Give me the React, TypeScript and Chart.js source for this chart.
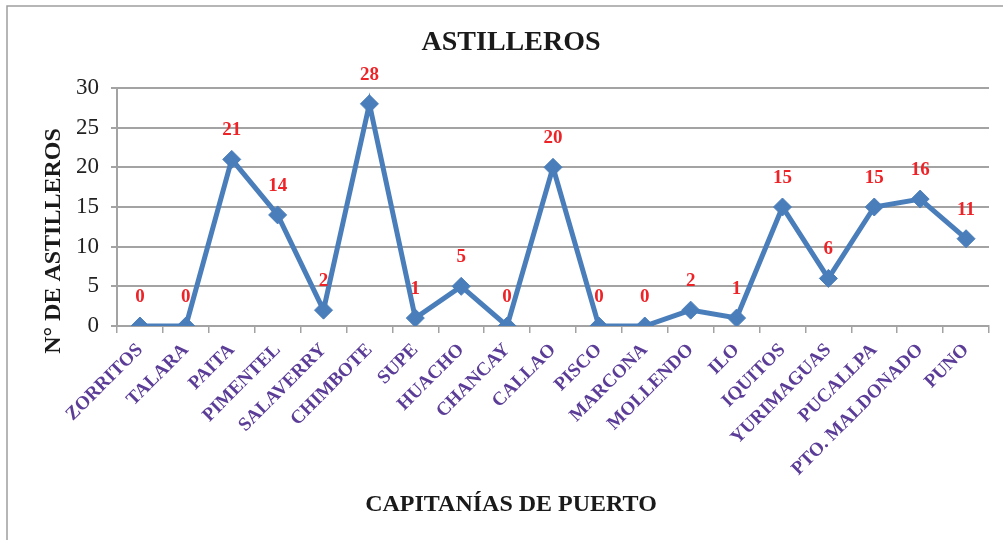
import React, { useEffect, useRef } from 'react';
import { Chart, registerables } from 'chart.js';

Chart.register(...registerables);

const categories = [
  'ZORRITOS', 'TALARA', 'PAITA', 'PIMENTEL', 'SALAVERRY', 'CHIMBOTE', 'SUPE', 'HUACHO',
  'CHANCAY', 'CALLAO', 'PISCO', 'MARCONA', 'MOLLENDO', 'ILO', 'IQUITOS', 'YURIMAGUAS',
  'PUCALLPA', 'PTO. MALDONADO', 'PUNO',
];
const values = [0, 0, 21, 14, 2, 28, 1, 5, 0, 20, 0, 0, 2, 1, 15, 6, 15, 16, 11];
const yMin = 0;
const yMax = 30;
const yStep = 5;
const chartTitle = 'ASTILLEROS';
const yAxisTitle = 'N° DE ASTILLEROS';
const xAxisTitle = 'CAPITANÍAS DE PUERTO';

const SERIF = '"Liberation Serif", "Times New Roman", serif';
const BLUE = '#4A7EBB';
const GRID = '#A3A3A3';

const decor = {
  id: 'decor',
  beforeDraw(chart: any) {
    const ctx = chart.ctx;
    ctx.save();
    ctx.fillStyle = '#ffffff';
    ctx.fillRect(0, 0, chart.width, chart.height);
    ctx.strokeStyle = '#9E9E9E';
    ctx.lineWidth = 1.5;
    ctx.beginPath();
    ctx.moveTo(7, chart.height);
    ctx.lineTo(7, 6);
    ctx.lineTo(chart.width, 6);
    ctx.stroke();
    ctx.restore();
  },
  afterDatasetsDraw(chart: any) {
    const ctx = chart.ctx;
    ctx.save();
    // data labels
    const meta = chart.getDatasetMeta(0);
    ctx.font = `bold 19px ${SERIF}`;
    ctx.fillStyle = '#EE2328';
    ctx.textAlign = 'center';
    ctx.textBaseline = 'middle';
    meta.data.forEach((pt: any, i: number) => {
      ctx.fillText(String(values[i]), pt.x, pt.y - 29);
    });
    // titles
    ctx.fillStyle = '#1a1a1a';
    ctx.font = `bold 28px ${SERIF}`;
    ctx.fillText(chartTitle, 511, 43);
    ctx.font = `bold 24px ${SERIF}`;
    ctx.fillText(xAxisTitle, 511, 505);
    ctx.translate(54, 241);
    ctx.rotate(-Math.PI / 2);
    ctx.fillText(yAxisTitle, 0, 0);
    ctx.restore();
  },
};

export default function App() {
  const ref = useRef<HTMLCanvasElement>(null);
  useEffect(() => {
    if (!ref.current) return;
    const chart = new Chart(ref.current, {
      type: 'line',
      data: {
        labels: categories,
        datasets: [
          {
            data: values,
            borderColor: BLUE,
            backgroundColor: BLUE,
            borderWidth: 5,
            pointStyle: 'rectRot',
            pointRadius: 9,
            pointBorderWidth: 1,
            pointBackgroundColor: BLUE,
            pointBorderColor: BLUE,
            tension: 0,
          },
        ],
      },
      options: {
        responsive: false,
        animation: false,
        layout: { padding: { top: 88, right: 14, left: 0, bottom: 0 } },
        plugins: {
          legend: { display: false },
          title: { display: false },
          tooltip: { enabled: false },
        },
        scales: {
          x: {
            offset: true,
            afterFit(scale: any) {
              scale.height = 214;
            },
            grid: {
              display: true,
              offset: true,
              drawOnChartArea: false,
              drawTicks: true,
              tickLength: 7,
              color: GRID,
              lineWidth: 1.5,
            },
            border: { color: GRID, width: 2 },
            ticks: {
              autoSkip: false,
              maxRotation: 45,
              minRotation: 45,
              padding: 6,
              color: '#5B3D98',
              font: { family: SERIF, size: 19, weight: 'bold' },
            },
          },
          y: {
            min: yMin,
            max: yMax,
            afterFit(scale: any) {
              scale.width = 117;
            },
            grid: {
              color: GRID,
              lineWidth: 2,
              tickLength: 6,
            },
            border: { color: GRID, width: 2 },
            ticks: {
              stepSize: yStep,
              padding: 12,
              color: '#222222',
              font: { family: SERIF, size: 23 },
            },
          },
        },
      },
      plugins: [decor],
    });
    return () => chart.destroy();
  }, []);
  return (
    <div style={{ position: 'absolute', left: 0, top: 0, width: 1003, height: 540 }}>
      <canvas ref={ref} width={1003} height={540} />
    </div>
  );
}
